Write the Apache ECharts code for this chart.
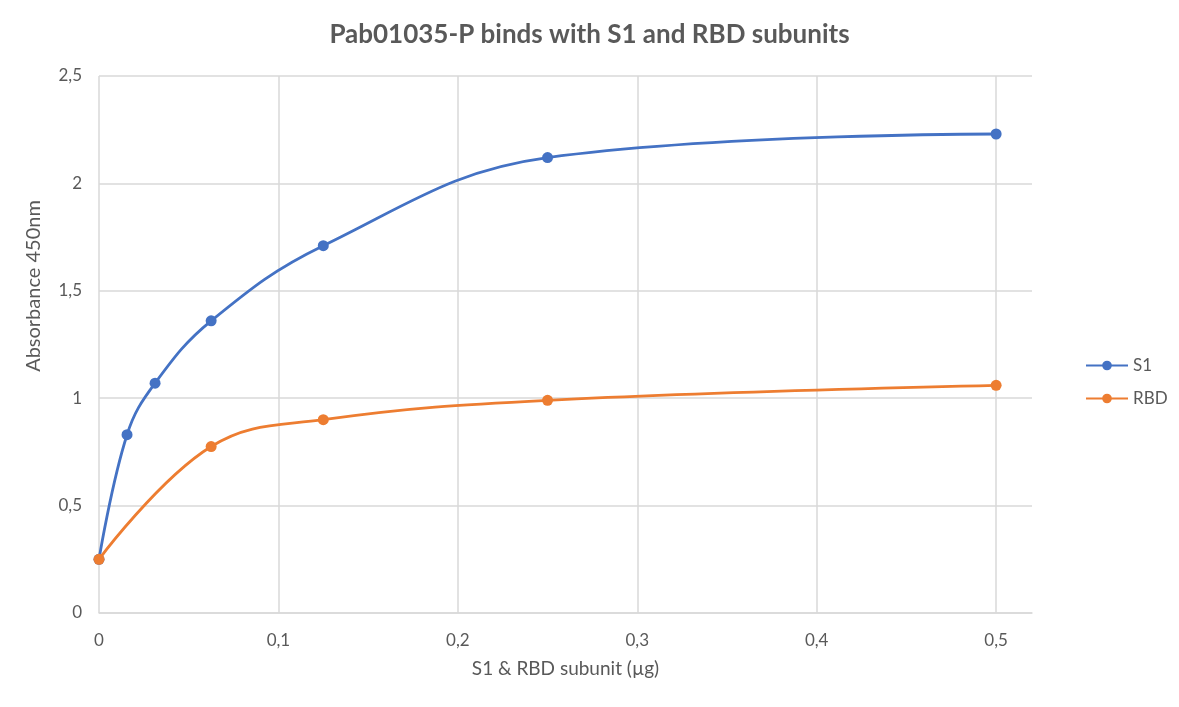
<!DOCTYPE html>
<html lang="en">
  <head>
    <meta charset="UTF-8" />
    <script src="https://cdn.jsdelivr.net/npm/echarts@6/dist/echarts.min.js"></script>
    <title>Pab01035-P binds with S1 and RBD subunits</title>
    <style>
      html, body { margin: 0; padding: 0; background: #fff; }
      #container { width: 1179px; height: 707px; }
    </style>
  </head>
  <body>
    <div id="container"></div>

    <script>
      const chart = echarts.init(document.getElementById("container"));

      // subunit amount (µg)
      const s1Amount = [0, 0.015625, 0.03125, 0.0625, 0.125, 0.25, 0.5];
      const s1Absorbance = [0.25, 0.83, 1.07, 1.36, 1.71, 2.12, 2.23];

      const rbdAmount = [0, 0.0625, 0.125, 0.25, 0.5];
      const rbdAbsorbance = [0.25, 0.775, 0.9, 0.99, 1.06];

      const textColor = "#595959";
      const gridColor = "#d9d9d9";
      const font = "Lato, 'Open Sans', sans-serif";

      const comma = (v) => String(v).replace(".", ",");

      const toPairs = (xs, ys) => xs.map((x, i) => [x, ys[i]]);

      const option = {
        textStyle: { fontFamily: font },
        title: {
          text: "Pab01035-P binds with S1 and RBD subunits",
          left: "center",
          top: 17,
          textStyle: { fontSize: 26, fontWeight: "bold", color: textColor, fontFamily: font },
        },
        grid: { left: 99, right: 147, top: 76, bottom: 94 },
        legend: {
          orient: "vertical",
          left: 1080,
          top: 352,
          itemGap: 16,
          itemWidth: 42,
          itemHeight: 12,
          textStyle: { fontSize: 17, color: textColor },
          data: ["S1", "RBD"],
        },
        xAxis: {
          type: "value",
          min: 0,
          max: 0.52,
          interval: 0.1,
          name: "S1 & RBD subunit (µg)",
          nameLocation: "middle",
          nameGap: 46,
          nameTextStyle: { fontSize: 19, color: textColor },
          axisLine: { show: true, lineStyle: { color: gridColor, width: 1.5 } },
          axisTick: { show: false },
          axisLabel: {
            fontSize: 17,
            color: textColor,
            margin: 19,
            showMaxLabel: false,
            formatter: (v) => (Math.abs(v * 10 - Math.round(v * 10)) < 1e-6 ? comma(+v.toFixed(1)) : ""),
          },
          splitLine: { show: true, showMaxLine: false, lineStyle: { color: gridColor, width: 1.5 } },
        },
        yAxis: {
          type: "value",
          min: 0,
          max: 2.5,
          interval: 0.5,
          axisLine: { show: false },
          axisTick: { show: false },
          axisLabel: { fontSize: 17, color: textColor, margin: 17, formatter: comma },
          splitLine: { lineStyle: { color: gridColor, width: 1.5 } },
        },
        graphic: [
          {
            type: "text",
            x: 34,
            y: 286,
            rotation: Math.PI / 2,
            style: {
              text: "Absorbance 450nm",
              fontSize: 20,
              fontFamily: font,
              fill: textColor,
              align: "center",
              verticalAlign: "middle",
            },
          },
        ],
        series: [
          {
            name: "S1",
            type: "line",
            data: toPairs(s1Amount, s1Absorbance),
            smooth: 0.4,
            symbol: "circle",
            symbolSize: 11,
            color: "#4472C4",
            lineStyle: { width: 2.8 },
            z: 3,
          },
          {
            name: "RBD",
            type: "line",
            data: toPairs(rbdAmount, rbdAbsorbance),
            smooth: 0.4,
            symbol: "circle",
            symbolSize: 11,
            color: "#ED7D31",
            lineStyle: { width: 2.8 },
            z: 4,
          },
        ],
      };

      chart.setOption(option);
    </script>
  </body>
</html>
